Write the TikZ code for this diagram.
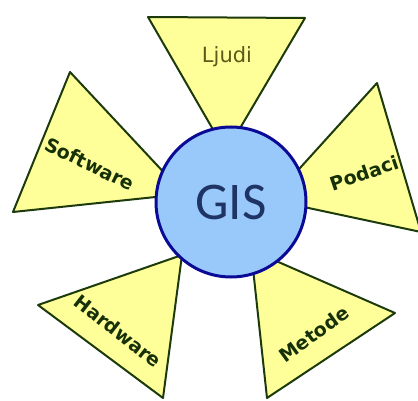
\documentclass[tikz,border=0pt]{standalone}
\usepackage{fontspec}
\setmainfont{DejaVu Sans}
\newfontfamily\gisfont{Carlito}
\usetikzlibrary{shapes}
\definecolor{petalyellow}{RGB}{255,255,153}
\definecolor{petalline}{RGB}{28,58,12}
\definecolor{gisblue}{RGB}{153,201,250}
\definecolor{gisline}{RGB}{10,10,150}
\definecolor{gistext}{RGB}{30,52,100}
\definecolor{labeltext}{RGB}{22,48,8}
\definecolor{ljuditext}{RGB}{95,88,25}
\tikzstyle{petal} = [line width=2pt, draw=petalline, fill=petalyellow, line join=round]

\begin{document}
\begin{tikzpicture}[x=1pt, y=-1pt,
		lbl/.style={font=\fontsize{19}{19}\selectfont\bfseries, text=labeltext, inner sep=0pt}]
	\useasboundingbox (0,0) rectangle (418,401);
	\clip (0,0) rectangle (418,401);
	%Dreiecke
	\draw[petal] (148,17) -- (305,18) -- (226,152) -- cycle;
	\draw[petal] (70,72) -- (13,212) -- (184,194) -- cycle;
	\draw[petal] (377,83) -- (421,232) -- (271,200) -- cycle;
	\draw[petal] (38,305) -- (163,398) -- (182,255) -- cycle;
	\draw[petal] (395,313) -- (267,398) -- (251,250) -- cycle;
	%Kreis
	\node[circle, draw=gisline, line width=3pt, fill=gisblue, minimum size=150pt, inner sep=0pt,
		text=gistext, font=\gisfont\fontsize{53}{53}\selectfont] (gis) at (231,202) {GIS};
	%Beschriftungen
	\node[inner sep=0pt, text=ljuditext, font=\fontsize{21}{21}\selectfont] (ljudi) at (227,57) {Ljudi};
	\node[lbl, rotate=-26] (software) at (90,164) {Software};
	\node[lbl, rotate=19] (podaci) at (364,173) {Podaci};
	\node[lbl, rotate=-38] (hardware) at (118,331) {Hardware};
	\node[lbl, rotate=36] (metode) at (314,334) {Metode};
\end{tikzpicture}
\end{document}
